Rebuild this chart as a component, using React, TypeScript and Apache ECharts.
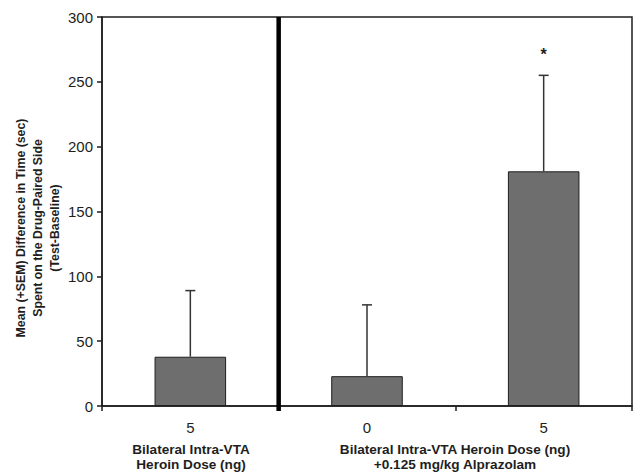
import React, { useEffect, useRef } from "react";
import * as echarts from "echarts";

const categories = ["5", "0", "5"];
const means = [38, 23, 181];
const sems = [51, 55, 74];
const significant = [false, false, true];
const yTicks = { min: 0, max: 300, interval: 50 };
const yAxisLines = ["Mean (+SEM) Difference in Time (sec)", "Spent on the Drug-Paired Side", "(Test-Baseline)"];
const groupLabels = [
  { lines: ["Bilateral Intra-VTA", "Heroin Dose (ng)"] },
  { lines: ["Bilateral Intra-VTA Heroin Dose (ng)", "+0.125 mg/kg Alprazolam"] },
];

const FONT = "'Liberation Sans', Arial, sans-serif";
const INK = "#1e1e1e";

export default function App() {
  const ref = useRef<HTMLDivElement>(null);
  useEffect(() => {
    if (!ref.current) return;
    const chart = echarts.init(ref.current, null, { renderer: "svg" });
    const errData = means.map((m, i) => [i, m, m + sems[i], significant[i] ? 1 : 0]);
    chart.setOption({
      animation: false,
      backgroundColor: "#ffffff",
      grid: {
        left: 102,
        right: 2,
        top: 17,
        bottom: 68,
        show: true,
        borderColor: INK,
        borderWidth: 1.5,
        backgroundColor: "transparent",
      },
      xAxis: {
        type: "category",
        data: categories,
        axisLine: { lineStyle: { color: INK, width: 1.5 } },
        axisTick: { show: true, length: 5, lineStyle: { color: INK, width: 1.5 } },
        axisLabel: { color: INK, fontSize: 15, fontFamily: FONT, margin: 14 },
      },
      yAxis: {
        type: "value",
        min: yTicks.min,
        max: yTicks.max,
        interval: yTicks.interval,
        splitLine: { show: false },
        axisLine: { show: true, lineStyle: { color: INK, width: 1.5 } },
        axisTick: { show: true, length: 5, lineStyle: { color: INK, width: 1.5 } },
        axisLabel: { color: INK, fontSize: 15, fontFamily: FONT, margin: 9 },
      },
      series: [
        {
          type: "bar",
          data: means,
          barWidth: "40.5%",
          itemStyle: { color: "#6e6e6e", borderColor: INK, borderWidth: 1 },
          z: 2,
        },
        {
          type: "custom",
          data: errData,
          z: 3,
          renderItem: (params: any, api: any) => {
            const x = api.value(0);
            const base = api.coord([x, api.value(1)]);
            const top = api.coord([x, api.value(2)]);
            const capHalf = 5;
            const children: any[] = [
              { type: "line", shape: { x1: base[0], y1: base[1], x2: top[0], y2: top[1] }, style: { stroke: "#333", lineWidth: 1.5 } },
              { type: "line", shape: { x1: top[0] - capHalf, y1: top[1], x2: top[0] + capHalf, y2: top[1] }, style: { stroke: "#333", lineWidth: 1.5 } },
            ];
            if (api.value(3) === 1) {
              children.push({
                type: "text",
                style: { text: "*", x: top[0], y: top[1] - 21, fill: INK, font: `bold 16px ${FONT}`, align: "center", verticalAlign: "middle" },
              });
            }
            if (params.dataIndex === 0) {
              const c0 = api.coord([0, yTicks.max]);
              const c0b = api.coord([0, yTicks.min]);
              const band = api.size([1, 0])[0];
              const bx = c0[0] + band / 2;
              children.push({
                type: "line",
                shape: { x1: bx, y1: c0[1], x2: bx, y2: c0b[1] + 5 },
                style: { stroke: "#000", lineWidth: 4.5 },
              });
            }
            return { type: "group", children };
          },
        },
      ],
      graphic: [
        {
          type: "text",
          x: 38,
          y: 228,
          rotation: Math.PI / 2,
          style: {
            text: yAxisLines.join("\n"),
            font: `bold 12.3px ${FONT}`,
            fill: INK,
            align: "center",
            verticalAlign: "middle",
            lineHeight: 17,
          },
        },
        {
          type: "text",
          x: 191,
          y: 457,
          style: {
            text: groupLabels[0].lines.join("\n"),
            font: `bold 13.6px ${FONT}`,
            fill: INK,
            align: "center",
            verticalAlign: "middle",
            lineHeight: 14.5,
          },
        },
        {
          type: "text",
          x: 455,
          y: 457,
          style: {
            text: groupLabels[1].lines.join("\n"),
            font: `bold 13.6px ${FONT}`,
            fill: INK,
            align: "center",
            verticalAlign: "middle",
            lineHeight: 14.5,
          },
        },
      ],
    });
    return () => chart.dispose();
  }, []);
  return (
    <div
      ref={ref}
      style={{ position: "fixed", left: 0, top: 0, width: 634, height: 474, background: "#fff" }}
    />
  );
}
